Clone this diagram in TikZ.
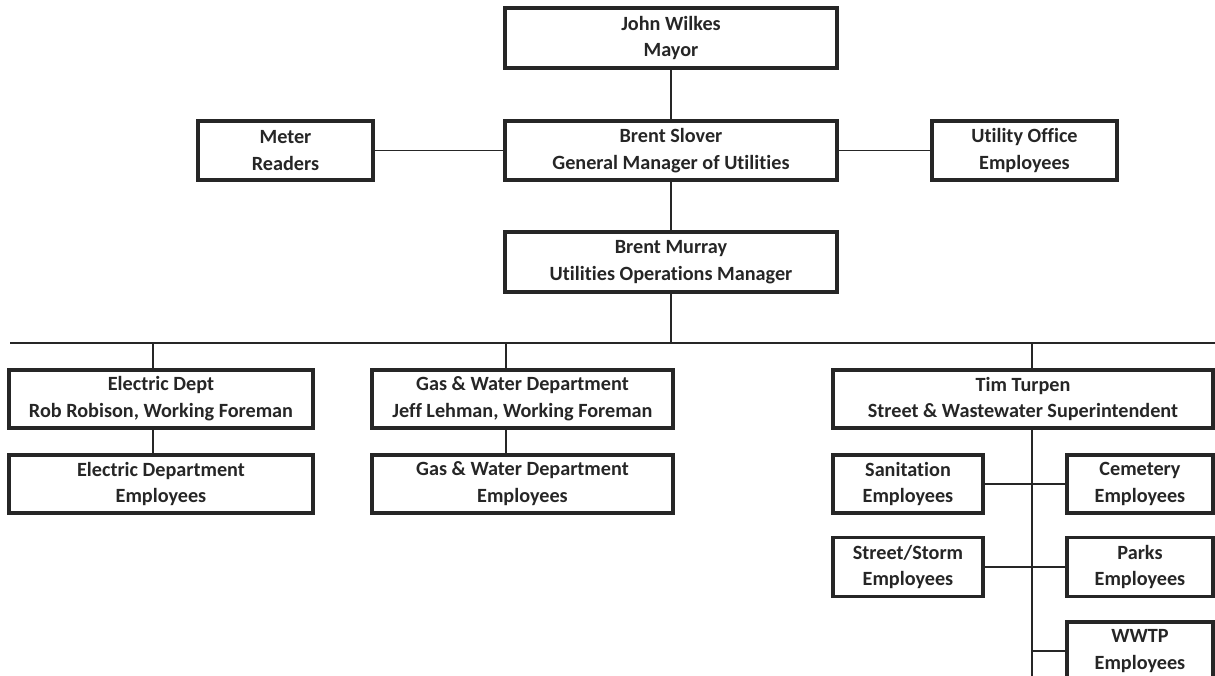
\documentclass[tikz,border=0pt]{standalone}
\usepackage{fontspec}
\setmainfont{Carlito}[Ligatures={NoCommon,NoContextual}]
\begin{document}
\begin{tikzpicture}[x=0.02cm,y=-0.02cm,
    post/.style 2 args={draw=black!85,line width=1.8pt,fill=white,rectangle,inner sep=0pt,align=center,
        font=\fontsize{11.5}{15.3}\selectfont\bfseries,text=black!85,
        minimum width=#1*0.02cm,minimum height=#2*0.02cm}]
                \useasboundingbox (0,0) rectangle (1215,676);
                \node[post={332}{60}] (mayor) at (671,38) {John Wilkes\\Mayor};
                \node[post={332}{59}] (gm) at (671,150.5) {Brent Slover\\General Manager of Utilities};
                \node[post={175}{59}] (meter) at (285.5,150.5) {Meter\\Readers};
                \node[post={185}{59}] (office) at (1024.5,150.5) {Utility Office\\Employees};
                \node[post={332}{60}] (ops) at (671,262) {Brent Murray\\Utilities Operations Manager};
                \node[post={304}{58}] (elec) at (161,399) {Electric Dept\\Rob Robison, Working Foreman};
                \node[post={304}{58}] (elecemp) at (161,484) {Electric Department\\Employees};
                \node[post={301}{58}] (gas) at (522.5,399) {Gas \& Water Department\\Jeff Lehman, Working Foreman};
                \node[post={301}{58}] (gasemp) at (522.5,484) {Gas \& Water Department\\Employees};
                \node[post={380}{58}] (tim) at (1023,399) {Tim Turpen\\Street \& Wastewater Superintendent};
                \node[post={150}{58}] (sanit) at (908,484) {Sanitation\\Employees};
                \node[post={146}{58}] (cemet) at (1140,484) {Cemetery\\Employees};
                \node[post={150}{59}] (street) at (908,567) {Street/Storm\\Employees};
                \node[post={146}{59}] (parks) at (1140,567) {Parks\\Employees};
                \node[post={146}{58}] (wwtp) at (1140,651) {WWTP\\Employees};

                \coordinate (busL) at (10,343);
                \coordinate (busR) at (1215,343);
                \coordinate (edrop) at (153,343);
                \coordinate (gdrop) at (506,343);
                \coordinate (tdrop) at (1032,343);
                \coordinate (tend) at (1032,676);

                \path [-,line width=0.8pt,black!85] (mayor) edge (gm);
                \path [-,line width=0.8pt,black!85] (meter) edge (gm);
                \path [-,line width=0.8pt,black!85] (gm) edge (office);
                \path [-,line width=0.8pt,black!85] (gm) edge (ops);
                \path [-,line width=0.8pt,black!85] (ops.south) edge (ops.south |- busL);
                \path [-,line width=0.8pt,black!85] (busL) edge (busR);
                \path [-,line width=0.8pt,black!85] (edrop) edge (edrop |- elec.north);
                \path [-,line width=0.8pt,black!85] (edrop |- elec.south) edge (edrop |- elecemp.north);
                \path [-,line width=0.8pt,black!85] (gdrop) edge (gdrop |- gas.north);
                \path [-,line width=0.8pt,black!85] (gdrop |- gas.south) edge (gdrop |- gasemp.north);
                \path [-,line width=0.8pt,black!85] (tdrop) edge (tdrop |- tim.north);
                \path [-,line width=0.8pt,black!85] (tdrop |- tim.south) edge (tend);
                \path [-,line width=0.8pt,black!85] (sanit) edge (cemet);
                \path [-,line width=0.8pt,black!85] (street) edge (parks);
                \path [-,line width=0.8pt,black!85] (tend |- wwtp.west) edge (wwtp);
            \end{tikzpicture}
\end{document}
